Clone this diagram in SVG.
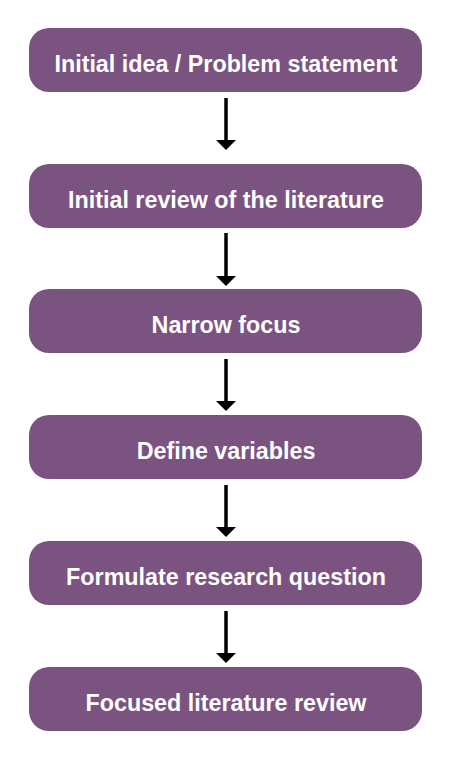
<svg xmlns="http://www.w3.org/2000/svg" width="452" height="764" viewBox="0 0 452 764">
<style>
.box{fill:#7B5380;}
.lbl{font-family:"Liberation Sans",Arial,sans-serif;font-weight:bold;font-size:23.3px;fill:#ffffff;text-anchor:middle;}
.conn{stroke:#000;stroke-width:3.5;fill:none;}
.head{fill:#000;}
</style>
<rect width="452" height="764" fill="#ffffff"/>
<g id="connectors">
<line class="conn" x1="226" y1="98" x2="226" y2="141"/><polygon class="head" points="216,140 236,140 226,150"/>
<line class="conn" x1="226" y1="233" x2="226" y2="277"/><polygon class="head" points="216,276 236,276 226,286"/>
<line class="conn" x1="226" y1="359" x2="226" y2="402"/><polygon class="head" points="216,401 236,401 226,411"/>
<line class="conn" x1="226" y1="485" x2="226" y2="528"/><polygon class="head" points="216,527 236,527 226,537"/>
<line class="conn" x1="226" y1="611" x2="226" y2="654"/><polygon class="head" points="216,653 236,653 226,663"/>
</g>
<g id="n1"><rect class="box" x="29" y="28" width="393" height="64" rx="20"/><text class="lbl" x="226" y="72">Initial idea / Problem statement</text></g>
<g id="n2"><rect class="box" x="29" y="164" width="393" height="64" rx="20"/><text class="lbl" x="226" y="208">Initial review of the literature</text></g>
<g id="n3"><rect class="box" x="29" y="289" width="393" height="64" rx="20"/><text class="lbl" x="226" y="333">Narrow focus</text></g>
<g id="n4"><rect class="box" x="29" y="415" width="393" height="64" rx="20"/><text class="lbl" x="226" y="459">Define variables</text></g>
<g id="n5"><rect class="box" x="29" y="541" width="393" height="64" rx="20"/><text class="lbl" x="226" y="585">Formulate research question</text></g>
<g id="n6"><rect class="box" x="29" y="667" width="393" height="64" rx="20"/><text class="lbl" x="226" y="711">Focused literature review</text></g>
</svg>
